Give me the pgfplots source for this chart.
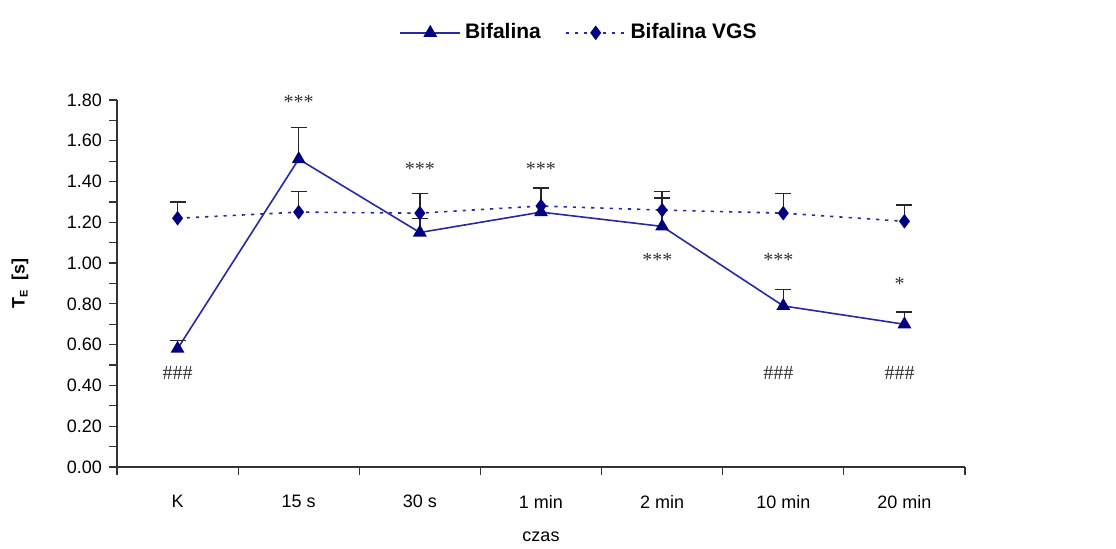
\documentclass[border=0pt]{standalone}
\usepackage{fontspec}
\setmainfont{Liberation Sans}
\newfontfamily\serif{Liberation Serif}
\usepackage{pgfplots}
\pgfplotsset{compat=1.18}
\definecolor{navyb}{RGB}{0,0,128}
\definecolor{linec}{RGB}{40,40,160}
\begin{document}
\begin{tikzpicture}
\begin{axis}[
  scale only axis,
  width=424pt, height=183.5pt,
  at={(0,0)}, anchor=south west,
  xmin=-0.5, xmax=6.5, ymin=0, ymax=1.8,
  axis x line=bottom, axis y line=left,
  axis line style={-, black!80, line width=0.8pt},
  tick align=outside,
  xtick={0,...,6},
  xticklabels={K,15 s,30 s,1 min,2 min,10 min,20 min},
  major x tick style={draw=none},
  minor xtick={-0.5,0.5,...,6.5},
  minor x tick style={black!80, line width=0.6pt},
  minor tick length=4pt,
  major tick length=4pt,
  ytick={0,0.2,...,1.8},
  minor ytick={0.1,0.3,...,1.7},
  y tick style={black!80, line width=0.6pt},
  yticklabel style={/pgf/number format/fixed, /pgf/number format/fixed zerofill, /pgf/number format/precision=2},
  /pgf/number format/assume math mode=true,
  tick label style={font=\fontsize{9}{10}\selectfont},
  xticklabel style={yshift=-6.5pt},
  legend style={at={(0.546,1.183)}, anchor=center, draw=none, fill=none,
    font=\fontsize{10.5}{11}\selectfont\bfseries, legend columns=2,
    /tikz/every even column/.append style={column sep=10pt}},
  legend image code/.code={\draw[mark repeat=2,mark phase=2,#1] plot coordinates {(0pt,0pt) (15pt,0pt) (30pt,0pt)};},
  clip=false,
]
\addplot[color=linec, line width=0.8pt, mark=triangle*, mark size=3.2pt,
  mark options={solid, fill=navyb, draw=navyb},
  error bars/.cd, y dir=plus, y explicit,
  error bar style={black!85, line width=0.7pt, solid},
  error mark options={rotate=90, black!85, mark size=4pt, line width=0.7pt}]
  coordinates {
  (0,0.58) +- (0,0.04)
  (1,1.51) +- (0,0.155)
  (2,1.15) +- (0,0.07)
  (3,1.25) +- (0,0.115)
  (4,1.18) +- (0,0.14)
  (5,0.79) +- (0,0.08)
  (6,0.70) +- (0,0.06)
  };
\addlegendentry{Bifalina}
\addplot[color=linec, line width=0.8pt, dash pattern=on 1.6pt off 3pt, mark=diamond*, mark size=3pt,
  mark options={solid, fill=navyb, draw=navyb},
  error bars/.cd, y dir=plus, y explicit,
  error bar style={black!85, line width=0.7pt, solid},
  error mark options={rotate=90, black!85, mark size=4pt, line width=0.7pt, solid}]
  coordinates {
  (0,1.22) +- (0,0.08)
  (1,1.25) +- (0,0.10)
  (2,1.245) +- (0,0.095)
  (3,1.28) +- (0,0.09)
  (4,1.26) +- (0,0.09)
  (5,1.245) +- (0,0.095)
  (6,1.205) +- (0,0.08)
  };
\addlegendentry{Bifalina VGS}
\begin{scope}[every node/.style={font=\serif\fontsize{10}{11}\selectfont, text=black!80}]
\node at (axis cs:1,1.79) {***};
\node at (axis cs:2,1.46) {***};
\node at (axis cs:3,1.46) {***};
\node at (axis cs:3.96,1.015) {***};
\node at (axis cs:4.96,1.015) {***};
\node at (axis cs:5.96,0.90) {*};
\node at (axis cs:0,0.46) {\#\#\#};
\node at (axis cs:4.96,0.46) {\#\#\#};
\node at (axis cs:5.96,0.46) {\#\#\#};
\end{scope}
\node[rotate=90, font=\fontsize{9}{10}\selectfont\bfseries] at ([xshift=-48.5pt]rel axis cs:0,0.5) {T\raisebox{-0.3ex}{\fontsize{5.5}{6}\selectfont E}~~[s]};
\node[font=\fontsize{9}{10}\selectfont] at ([yshift=-35pt]rel axis cs:0.5,0) {czas};
\end{axis}
\path[use as bounding box] (-58.5pt,-39.5pt) rectangle (499.5pt,233.5pt);
\end{tikzpicture}
\end{document}
